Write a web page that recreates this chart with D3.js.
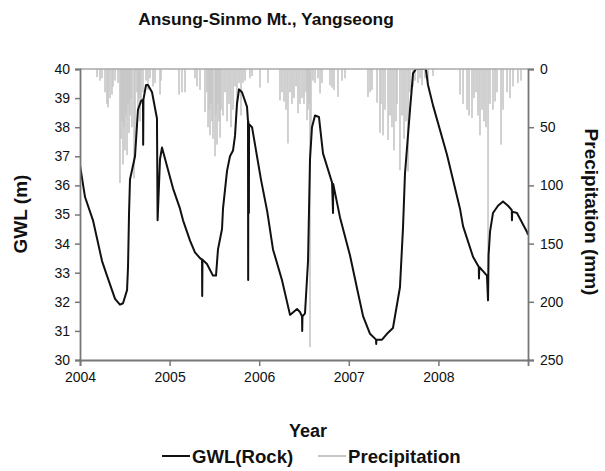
<!DOCTYPE html>
<html>
<head>
<meta charset="utf-8">
<script src="https://cdn.jsdelivr.net/npm/d3@7"></script>
<style>
  html, body { margin: 0; padding: 0; background: #fff; }
  svg { display: block; font-family: "Liberation Sans", Arial, sans-serif; }
</style>
</head>
<body>
<svg id="chart" width="605" height="471"></svg>
<script>
// ---- Data ----
const chartTitle = "Ansung-Sinmo Mt., Yangseong";
const yearTicks = [2004, 2005, 2006, 2007, 2008, 2009];
const yearLabels = ["2004", "2005", "2006", "2007", "2008", ""];
const gwlTicks = [30, 31, 32, 33, 34, 35, 36, 37, 38, 39, 40];
const precipTicks = [0, 50, 100, 150, 200, 250];

// GWL(Rock): decimal year
const gwlDates = [
  2004.000, 2004.056, 2004.145, 2004.246, 2004.301, 2004.391, 2004.446, 2004.480, 2004.525, 2004.536,
  2004.547, 2004.558, 2004.614, 2004.647, 2004.681, 2004.703, 2004.705, 2004.708, 2004.737, 2004.759,
  2004.804, 2004.859, 2004.866, 2004.893, 2004.915, 2005.038, 2005.116, 2005.150, 2005.228, 2005.283,
  2005.339, 2005.362, 2005.364, 2005.367, 2005.417, 2005.484, 2005.518, 2005.540, 2005.585, 2005.596,
  2005.641, 2005.674, 2005.708, 2005.730, 2005.752, 2005.775, 2005.808, 2005.864, 2005.875, 2005.877,
  2005.879, 2005.885, 2005.887, 2005.920, 2006.020, 2006.090, 2006.154, 2006.254, 2006.344, 2006.422,
  2006.455, 2006.478, 2006.480, 2006.483, 2006.511, 2006.545, 2006.567, 2006.589, 2006.623, 2006.667,
  2006.712, 2006.813, 2006.824, 2006.826, 2006.902, 2007.013, 2007.103, 2007.160, 2007.237, 2007.304,
  2007.306, 2007.308, 2007.371, 2007.426, 2007.493, 2007.571, 2007.605, 2007.627, 2007.683, 2007.717,
  2007.750, 2007.860, 2007.873, 2007.884, 2007.940, 2008.096, 2008.241, 2008.275, 2008.386, 2008.451,
  2008.453, 2008.456, 2008.542, 2008.554, 2008.560, 2008.576, 2008.609, 2008.665, 2008.721, 2008.777,
  2008.819, 2008.821, 2008.824, 2008.877, 2008.989, 2009.000
];
const gwlValues = [
  36.7, 35.6, 34.8, 33.4, 32.9, 32.1, 31.9, 31.95, 32.4, 33.2,
  35.0, 36.2, 37.0, 38.6, 38.9, 38.95, 37.4, 38.95, 39.45, 39.45,
  39.2, 38.3, 34.8, 36.9, 37.3, 35.9, 35.2, 34.8, 34.1, 33.7,
  33.5, 33.45, 32.2, 33.45, 33.3, 32.9, 32.9, 33.8, 34.5, 35.2,
  36.5, 37.0, 37.2, 37.7, 38.8, 39.3, 39.2, 38.7, 38.2, 32.75,
  38.2, 35.05, 38.1, 38.0, 36.2, 35.1, 33.8, 32.75, 31.55, 31.75,
  31.65, 31.5, 31.0, 31.5, 31.6, 33.4, 36.9, 38.0, 38.4, 38.35,
  37.1, 36.1, 35.05, 36.05, 34.9, 33.6, 32.3, 31.5, 30.9, 30.7,
  30.55, 30.7, 30.7, 30.9, 31.1, 32.5, 34.55, 36.4, 38.6, 39.85,
  40.0, 40.0, 39.7, 39.45, 38.75, 37.05, 35.2, 34.6, 33.55, 33.2,
  32.8, 33.2, 32.9, 32.05, 33.6, 34.4, 35.05, 35.3, 35.45, 35.3,
  35.15, 34.8, 35.1, 35.05, 34.4, 34.3
];

// Precipitation (mm): decimal year
const precipDates = [
  2004.190, 2004.223, 2004.246, 2004.279, 2004.301, 2004.313, 2004.335, 2004.357, 2004.368, 2004.391,
  2004.424, 2004.446, 2004.458, 2004.469, 2004.480, 2004.491, 2004.502, 2004.513, 2004.525, 2004.536,
  2004.547, 2004.558, 2004.569, 2004.580, 2004.603, 2004.614, 2004.636, 2004.647, 2004.658, 2004.670,
  2004.681, 2004.703, 2004.737, 2004.759, 2004.781, 2004.815, 2004.837, 2004.893, 2004.904,
  2005.105, 2005.138, 2005.172, 2005.283, 2005.306, 2005.339,
  2005.395, 2005.417, 2005.429, 2005.440, 2005.451, 2005.462, 2005.473, 2005.484, 2005.507, 2005.518,
  2005.529, 2005.540, 2005.551, 2005.563, 2005.574, 2005.596, 2005.618, 2005.641, 2005.663, 2005.685,
  2005.708, 2005.730, 2005.752, 2005.775, 2005.797, 2005.819, 2005.842, 2005.897, 2005.920,
  2006.009, 2006.098,
  2006.232, 2006.254, 2006.277, 2006.299, 2006.321, 2006.344, 2006.366, 2006.388, 2006.411, 2006.433,
  2006.455, 2006.478, 2006.500, 2006.522, 2006.534, 2006.545, 2006.556, 2006.567, 2006.578, 2006.600,
  2006.623, 2006.656, 2006.679, 2006.701, 2006.790, 2006.813, 2006.835, 2006.879, 2006.924, 2006.958,
  2007.214, 2007.237, 2007.259, 2007.315, 2007.348, 2007.359, 2007.382, 2007.404, 2007.438, 2007.460,
  2007.482, 2007.504, 2007.527, 2007.538, 2007.571, 2007.594, 2007.616, 2007.638, 2007.661, 2007.683,
  2007.717, 2007.739, 2007.772, 2007.795, 2007.817, 2007.850, 2007.884, 2007.940,
  2008.241, 2008.275, 2008.319, 2008.342, 2008.375, 2008.397, 2008.420, 2008.442, 2008.464, 2008.487,
  2008.509, 2008.531, 2008.554, 2008.576, 2008.609, 2008.632, 2008.654, 2008.699, 2008.721, 2008.766,
  2008.799, 2008.833, 2008.888, 2008.922
];
const precipValues = [
  7, 10, 8, 20, 30, 33, 25, 22, 15, 10,
  12, 98, 60, 45, 82, 50, 70, 40, 74, 30,
  55, 40, 25, 50, 94, 60, 20, 35, 25, 45,
  30, 20, 10, 18, 8, 15, 12, 22, 10,
  22, 20, 20, 8, 15, 18,
  37, 20, 50, 35, 57, 30, 45, 60, 75, 40,
  65, 30, 45, 59, 35, 40, 20, 45, 30, 50,
  35, 15, 30, 12, 40, 12, 10, 8, 6,
  16, 12,
  27, 20, 28, 35, 64, 20, 30, 25, 15, 38,
  30, 25, 30, 20, 44, 35, 30, 239, 60, 10,
  12, 8, 21, 12, 14, 16, 18, 24, 10, 8,
  24, 20, 18, 29, 55, 30, 57, 35, 61, 40,
  50, 70, 45, 30, 87, 40, 60, 45, 88, 20,
  15, 10, 12, 8, 14, 8, 10, 6,
  22, 30, 35, 40, 42, 25, 20, 40, 57, 35,
  45, 50, 175, 30, 35, 28, 20, 65, 35, 20,
  25, 15, 12, 10
];

// ---- Chart ----
const svg = d3.select("#chart");
const m = { left: 80, right: 528, top: 69, bottom: 360 };

const x = d3.scaleLinear().domain([2004, 2009]).range([m.left, m.right]);
const y = d3.scaleLinear().domain([30, 40]).range([m.bottom, m.top]);
const yP = d3.scaleLinear().domain([0, 250]).range([m.top, m.bottom]);

svg.append("defs").append("clipPath").attr("id", "plotclip")
  .append("rect").attr("x", m.left).attr("y", m.top)
  .attr("width", m.right - m.left).attr("height", m.bottom - m.top);

const plot = svg.append("g").attr("clip-path", "url(#plotclip)");

// precipitation bars hanging from the top
const precip = precipDates.map((d, i) => ({ t: d, v: precipValues[i] }));
plot.append("g").selectAll("rect").data(precip).join("rect")
  .attr("x", d => x(d.t) - 0.8)
  .attr("y", yP(0))
  .attr("width", 1.6)
  .attr("height", d => yP(d.v) - yP(0))
  .attr("fill", "#c6c6c6");

// top line
svg.append("line").attr("x1", m.left).attr("x2", m.right)
  .attr("y1", m.top).attr("y2", m.top)
  .attr("stroke", "#a8a8a8").attr("stroke-width", 1.5);

// GWL line
const gwl = gwlDates.map((d, i) => ({ t: d, v: gwlValues[i] }));
plot.append("path").datum(gwl)
  .attr("fill", "none").attr("stroke", "#111").attr("stroke-width", 2)
  .attr("stroke-linejoin", "round")
  .attr("d", d3.line().x(d => x(d.t)).y(d => y(d.v)));

// axes
const axisColor = "#777";
const fontTick = 14;

const gx = svg.append("g").attr("transform", `translate(0,${m.bottom})`)
  .call(d3.axisBottom(x).tickValues(yearTicks).tickFormat((d, i) => yearLabels[i]).tickSize(6).tickPadding(6));
const gy = svg.append("g").attr("transform", `translate(${m.left},0)`)
  .call(d3.axisLeft(y).tickValues(gwlTicks).tickFormat(d3.format("d")).tickSize(5).tickPadding(5));
const gyr = svg.append("g").attr("transform", `translate(${m.right},0)`)
  .call(d3.axisRight(yP).tickValues(precipTicks).tickFormat(d3.format("d")).tickSize(6).tickPadding(6));

[gx, gy, gyr].forEach(g => {
  g.select(".domain").attr("stroke", axisColor).attr("stroke-width", 1.8);
  g.selectAll(".tick line").attr("stroke", axisColor).attr("stroke-width", 1.5);
  g.selectAll(".tick text").attr("fill", "#111")
    .attr("font-size", fontTick).attr("font-family", "'Liberation Sans', Arial, sans-serif");
});
gx.selectAll(".tick").filter(d => d === 2009).select("line").remove();

// titles
svg.append("text").attr("x", 266).attr("y", 25).attr("text-anchor", "middle")
  .attr("font-size", 17.4).attr("font-weight", "bold").attr("fill", "#111").text(chartTitle);

svg.append("text").attr("transform", "translate(27,214) rotate(-90)")
  .attr("text-anchor", "middle").attr("font-size", 19).attr("font-weight", "bold").attr("fill", "#111")
  .text("GWL (m)");

svg.append("text").attr("transform", "translate(585,212) rotate(90)")
  .attr("text-anchor", "middle").attr("font-size", 19).attr("font-weight", "bold").attr("fill", "#111")
  .text("Precipitation (mm)");

svg.append("text").attr("x", 308).attr("y", 437).attr("text-anchor", "middle")
  .attr("font-size", 18).attr("font-weight", "bold").attr("fill", "#111").text("Year");

// legend
const legend = [
  { label: "GWL(Rock)", color: "#111", x: 162 },
  { label: "Precipitation", color: "#c6c6c6", x: 318 }
];
const lg = svg.append("g");
legend.forEach(l => {
  lg.append("line").attr("x1", l.x).attr("x2", l.x + 28).attr("y1", 456).attr("y2", 456)
    .attr("stroke", l.color).attr("stroke-width", 2);
  lg.append("text").attr("x", l.x + 30).attr("y", 462.5)
    .attr("font-size", 18.6).attr("font-weight", "bold").attr("fill", "#111").text(l.label);
});
</script>
</body>
</html>
